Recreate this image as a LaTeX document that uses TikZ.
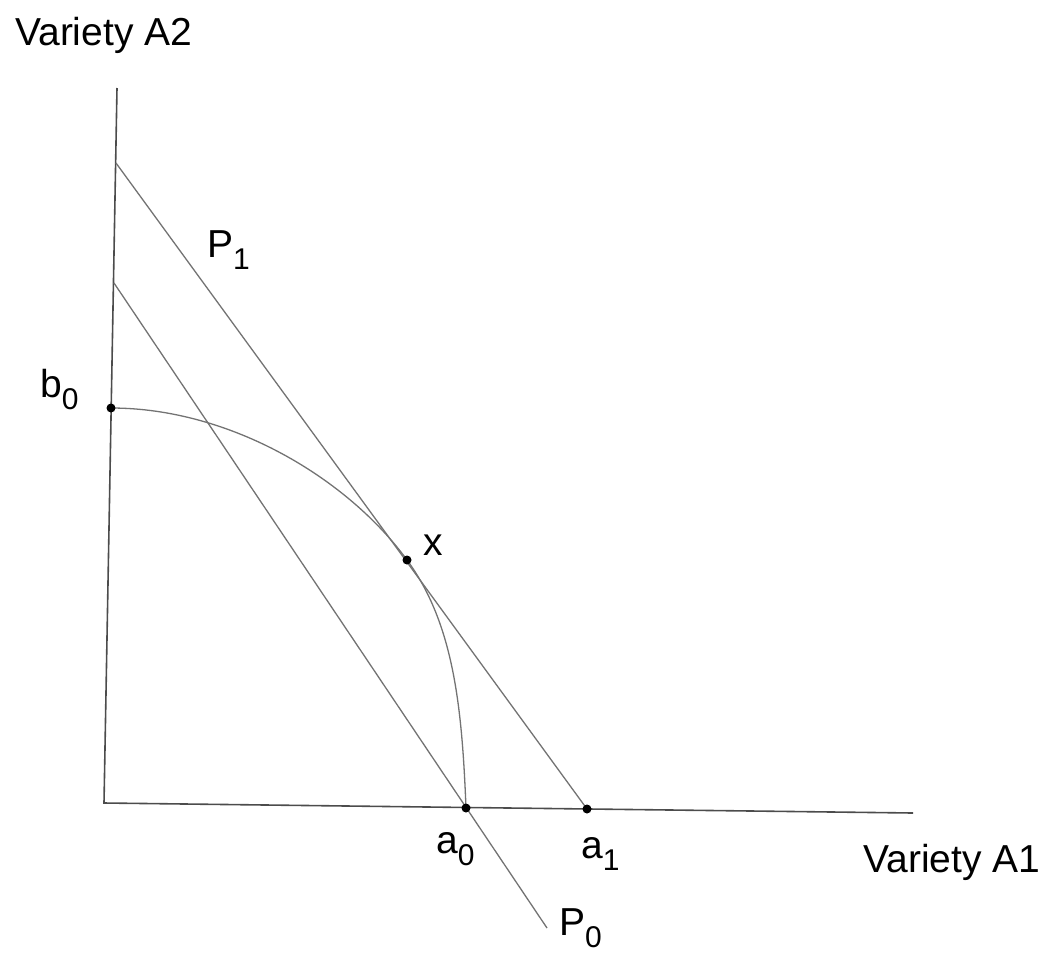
\documentclass[tikz,border=0pt]{standalone}
\usepackage{fontspec}
\setmainfont{Liberation Sans}
\newcommand\lsub[1]{\raisebox{-12pt}{\fontsize{30}{30}\selectfont #1}}
\begin{document}
\begin{tikzpicture}[x=1pt,y=-1pt,
  axis/.style={line width=1.6pt, draw=black!70},
  ln/.style={line width=1.3pt, draw=black!55},
  dot/.style={circle, fill=black, inner sep=0pt, minimum size=9pt},
  lbl/.style={anchor=base west, inner sep=0pt, font=\fontsize{39}{44}\selectfont}]
\useasboundingbox (0,0) rectangle (1057,956);
\coordinate (ytop) at (117,88);
\coordinate (O) at (104,803);
\coordinate (xend) at (913,813);
\coordinate (p1s) at (116,163);
\coordinate (p0s) at (114,283);
\coordinate (p0e) at (547,928);
\coordinate (b0) at (111,408);
\coordinate (a0) at (466,808);
\coordinate (a1) at (587,809);
\coordinate (X) at (407,560);
% axes
\draw[axis] (ytop) -- (O) -- (xend);
% price lines
\draw[ln] (p1s) -- (a1);
\draw[ln] (p0s) -- (p0e);
% production possibility curve
\draw[ln] (b0) .. controls (231,408) and (348,479) .. (X)
              .. controls (454,624) and (462,708) .. (a0);
% dots
\node[dot] (b0dot) at (b0) {};
\node[dot] (a0dot) at (a0) {};
\node[dot] (a1dot) at (a1) {};
\node[dot] (xdot) at (X) {};
% labels
\node[lbl] (lA2) at (15,45) {Variety A2};
\node[lbl] (lA1) at (863,872) {Variety A1};
\node[lbl] (lP1) at (207,257) {P\lsub{1}};
\node[lbl] (lb0) at (40,397) {b\lsub{0}};
\node[lbl] (lx) at (423,555) {x};
\node[lbl] (la0) at (436,853) {a\lsub{0}};
\node[lbl] (la1) at (581,858) {a\lsub{1}};
\node[lbl] (lP0) at (559,935) {P\lsub{0}};
\end{tikzpicture}
\end{document}
